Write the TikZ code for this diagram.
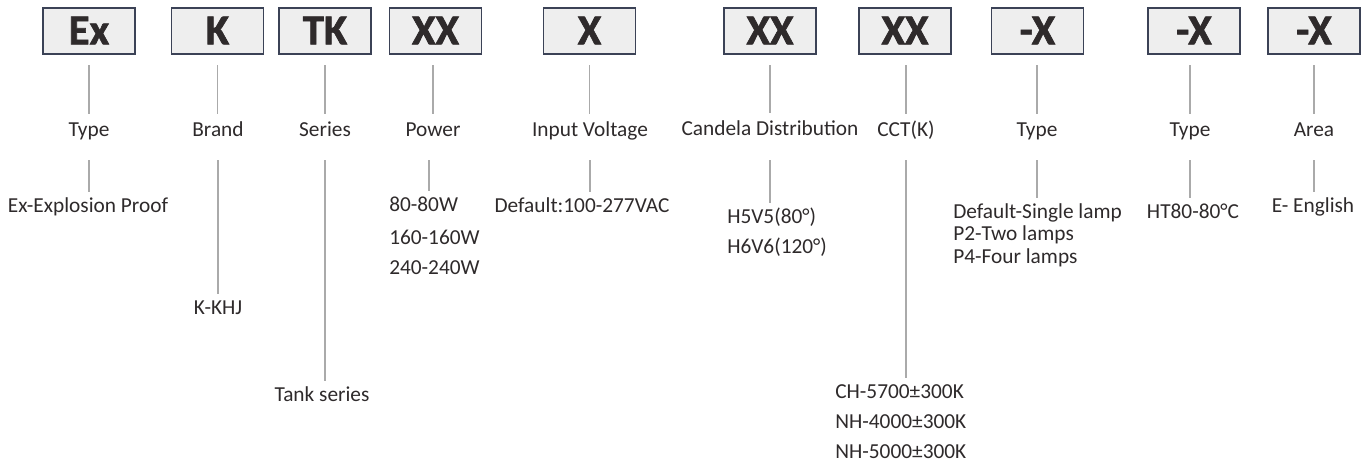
\documentclass[tikz,border=0pt]{standalone}
\usepackage{fontspec}
\setmainfont{Carlito}
\newfontfamily\codefont{Carlito}[BoldFeatures={FakeBold=1.6}]
\usepackage{tikz}
\usetikzlibrary{positioning, calc}

\definecolor{txtc}{HTML}{2E2A2B}
\definecolor{boxc}{HTML}{3B4256}
\definecolor{boxfill}{HTML}{EEEEEE}
\definecolor{linec}{HTML}{AAAAAA}

\tikzset{
  codebox/.style={draw=boxc, line width=1.1pt, fill=boxfill, outer sep=0pt,
    minimum width=69pt, minimum height=34.5pt, inner sep=0pt,
    text=txtc, font=\codefont\fontsize{32}{36}\selectfont\bfseries,
    text height=20pt, text depth=0pt},
  fieldlbl/.style={anchor=base, inner sep=0pt, text=txtc,
    font=\fontsize{16}{19}\selectfont, text height=10.3pt, text depth=0pt},
  optlbl/.style={fieldlbl},
  optleft/.style={fieldlbl, anchor=base west},
  stem/.style={draw=linec, line width=0.8pt, shorten <=8.25pt, shorten >=5.8pt},
  leg/.style={draw=linec, line width=0.8pt, shorten <=18pt, shorten >=4.3pt}
}

\begin{document}
\begin{tikzpicture}[x=0.75pt, y=-0.75pt]
    \useasboundingbox (0,0) rectangle (1368,464);

    % Code boxes
    \node[codebox] (bType)  at (89,31)   {Ex};
    \node[codebox] (bBrand) at (217.5,31) {K};
    \node[codebox] (bSer)   at (325,31)  {TK};
    \node[codebox] (bPow)   at (435.5,31) {XX};
    \node[codebox] (bVolt)  at (589.5,31) {X};
    \node[codebox] (bCand)  at (770,31)  {XX};
    \node[codebox] (bCCT)   at (905,31)  {XX};
    \node[codebox] (bLamp)  at (1037.5,31) {-X};
    \node[codebox] (bTemp)  at (1194,31) {-X};
    \node[codebox] (bArea)  at (1314,31) {-X};

    % Field names
    \node[fieldlbl] (tType)  at (89,136)   {Type};
    \node[fieldlbl] (tBrand) at (218,136)  {Brand};
    \node[fieldlbl] (tSer)   at (325,136)  {Series};
    \node[fieldlbl] (tPow)   at (433,136)  {Power};
    \node[fieldlbl] (tVolt)  at (590,136)  {Input Voltage};
    \node[fieldlbl] (tCand)  at (770,135)  {Candela Distribution};
    \node[fieldlbl] (tCCT)   at (906,136)  {CCT(K)};
    \node[fieldlbl] (tLamp)  at (1037,136) {Type};
    \node[fieldlbl] (tTemp)  at (1190,136) {Type};
    \node[fieldlbl] (tArea)  at (1314,136) {Area};

    % Options
    \node[optlbl] (oType)  at (88,212)   {Ex-Explosion Proof};
    \node[optlbl] (oBrand) at (218,314)  {K-KHJ};
    \node[optlbl] (oSer)   at (322,401)  {Tank series};
    \node[optleft] (oPow1) at (389,211)  {80-80W};
    \node[optleft] (oPow2) at (389,244)  {160-160W};
    \node[optleft] (oPow3) at (389,274)  {240-240W};
    \node[optlbl] (oVolt)  at (582,212)  {Default:100-277VAC};
    \node[optleft] (oCand1) at (727,223) {H5V5(80°)};
    \node[optleft] (oCand2) at (727,253) {H6V6(120°)};
    \node[optleft] (oCCT1) at (835,398)  {CH-5700±300K};
    \node[optleft] (oCCT2) at (835,428)  {NH-4000±300K};
    \node[optleft] (oCCT3) at (835,458)  {NH-5000±300K};
    \node[optleft] (oLamp1) at (953,218) {Default-Single lamp};
    \node[optleft] (oLamp2) at (953,240) {P2-Two lamps};
    \node[optleft] (oLamp3) at (953,263) {P4-Four lamps};
    \node[optlbl] (oTemp)  at (1193,218) {HT80-80°C};
    \node[optlbl] (oArea)  at (1313,212) {E- English};

    % Box to field name
    \draw[stem] (bType.south)  -- (bType.south  |- tType.north);
    \draw[stem] (bBrand.south) -- (bBrand.south |- tBrand.north);
    \draw[stem] (bSer.south)   -- (bSer.south   |- tSer.north);
    \draw[stem] (tPow |- bPow.south) -- (tPow.north);
    \draw[stem] (bVolt.south)  -- (bVolt.south  |- tVolt.north);
    \draw[stem] (bCand.south)  -- (bCand.south  |- tCand.north);
    \draw[stem] (tCCT |- bCCT.south) -- (tCCT.north);
    \draw[stem] (tLamp |- bLamp.south) -- (tLamp.north);
    \draw[stem] (tTemp |- bTemp.south) -- (tTemp.north);
    \draw[stem] (bArea.south)  -- (bArea.south  |- tArea.north);

    % Field name to options
    \draw[leg] (tType.south)  -- (tType.south  |- oType.north);
    \draw[leg] (tBrand.south) -- (tBrand.south |- oBrand.north);
    \draw[leg] (tSer.south)   -- (tSer.south   |- oSer.north);
    \draw[leg] ([xshift=-3pt]tPow.south) -- ([xshift=-3pt]tPow.south |- oPow1.north);
    \draw[leg] (tVolt.south)  -- (tVolt.south  |- oVolt.north);
    \draw[leg] (tCand.south |- tType.south) -- (tCand.south |- oCand1.north);
    \draw[leg] (tCCT.south)   -- (tCCT.south   |- oCCT1.north);
    \draw[leg] (tLamp.south)  -- (tLamp.south  |- oLamp1.north);
    \draw[leg] (tTemp.south)  -- (tTemp.south  |- oTemp.north);
    \draw[leg] (tArea.south)  -- (tArea.south  |- oArea.north);

  \end{tikzpicture}
\end{document}
